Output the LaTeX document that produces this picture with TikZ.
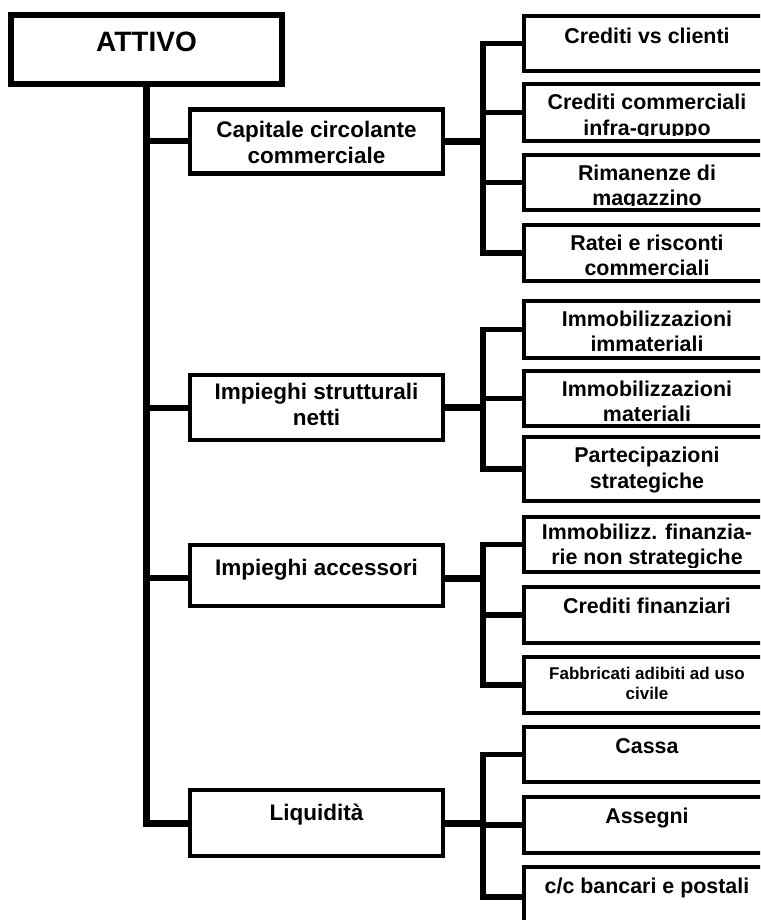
\documentclass[tikz,border=0pt]{standalone}
\usepackage{fontspec}
\setmainfont{Liberation Sans}

% Box with top-aligned, clipped text:
% #1 style, #2 name, #3 left, #4 top, #5 width, #6 height, #7 first baseline offset, #8 text
\newcommand\tbox[8]{%
  \node[#1, minimum width=#5pt, minimum height=#6pt, anchor=north west] (#2) at (#3,#4) {};
  \begin{scope}
    \clip ([yshift=5pt]#2.south west) rectangle (#2.north east);
    \node[#1 text, anchor=base] at ([yshift=-#7pt]#2.north)
      {\begin{tabular}[t]{@{}c@{}}#8\end{tabular}};
  \end{scope}}

\begin{document}
\begin{tikzpicture}[x=1pt,y=-1pt,
  frame/.style={draw=black, fill=white, inner sep=0pt, outer sep=0pt},
  root/.style={frame, line width=6pt},
  root text/.style={inner sep=0pt, font=\bfseries\fontsize{28}{32}\selectfont},
  mid/.style={frame, line width=4.5pt},
  mid text/.style={inner sep=0pt, font=\bfseries\fontsize{22.5}{25.8}\selectfont},
  leaf/.style={frame, line width=4.5pt},
  leaf text/.style={inner sep=0pt, font=\bfseries\fontsize{21.4}{25.5}\selectfont},
  smallleaf/.style={leaf},
  smallleaf text/.style={inner sep=0pt, font=\bfseries\fontsize{17}{20}\selectfont},
  trunkline/.style={line width=7pt},
  armline/.style={line width=6pt},
  linkline/.style={line width=7pt},
  branchline/.style={line width=5.5pt},
]
\useasboundingbox (0,0) rectangle (760,920);
\clip (0,0) rectangle (760,920);

% root
\tbox{root}{attivo}{11}{15}{271}{69}{37}{ATTIVO}

% second level
\tbox{mid}{cap}{190}{109.5}{253}{64}{28}{Capitale circolante\\commerciale}
\tbox{mid}{str}{190}{375}{253}{65}{24.5}{Impieghi strutturali\\netti}
\tbox{mid}{acc}{190}{545}{253}{61}{30}{Impieghi accessori}
\tbox{mid}{liq}{190}{790}{253}{66}{30}{Liquidità}

% leaves: capitale circolante
\tbox{leaf}{c1}{524}{16}{246}{55}{27.3}{Crediti vs clienti}
\tbox{leaf}{c2}{524}{84}{246}{57}{26}{Crediti commerciali\\infra-gruppo}
\tbox{leaf}{c3}{524}{155}{246}{55}{25}{Rimanenze di\\magazzino}
\tbox{leaf}{c4}{524}{225}{246}{56}{25}{Ratei e risconti\\commerciali}

% leaves: impieghi strutturali
\tbox{leaf}{s1}{524}{301}{246}{57}{25}{Immobilizzazioni\\immateriali}
\tbox{leaf}{s2}{524}{371}{246}{55}{25}{Immobilizzazioni\\materiali}
\tbox{leaf}{s3}{524}{437}{246}{64}{25.7}{Partecipazioni\\strategiche}

% leaves: impieghi accessori
\tbox{leaf}{a1}{524}{517}{246}{55}{22.3}{Immobilizz. finanzia-\\rie non strategiche}
\tbox{leaf}{a2}{524}{587}{246}{56}{26.3}{Crediti finanziari}
\tbox{smallleaf}{a3}{524}{657}{246}{56}{22.3}{Fabbricati adibiti ad uso\\civile}

% leaves: liquidita
\tbox{leaf}{l1}{524}{727}{246}{55}{26.3}{Cassa}
\tbox{leaf}{l2}{524}{797}{246}{56}{26.3}{Assegni}
\tbox{leaf}{l3}{524}{867}{246}{60}{26.3}{c/c bancari e postali}

% trunk and arms
\coordinate (accw) at ([yshift=-2.5pt]acc.west);
\coordinate (acce) at ([yshift=-2.5pt]acc.east);
\draw[trunkline] (attivo.south) |- (liq.west);
\draw[armline] (cap.west) -- (cap.west -| attivo.south);
\draw[armline] (str.west) -- (str.west -| attivo.south);
\draw[armline] (accw) -- (accw -| attivo.south);

% links to the brackets
\coordinate (k1) at ([xshift=40pt]cap.east);
\coordinate (k2) at ([xshift=40pt]str.east);
\coordinate (k3) at ([xshift=40pt]acce);
\coordinate (k4) at ([xshift=40pt]liq.east);
\draw[linkline] (cap.east) -- (k1);
\draw[linkline] (str.east) -- (k2);
\draw[linkline] (acce) -- (k3);
\draw[linkline] (liq.east) -- (k4);

% brackets
\draw[branchline] (c1.west) -| (k1) |- (c4.west);
\draw[branchline] (c2.west) -- (c2.west -| k1);
\draw[branchline] (c3.west) -- (c3.west -| k1);

\draw[branchline] (s1.west) -| (k2) |- (s3.west);
\draw[branchline] (s2.west) -- (s2.west -| k2);

\draw[branchline] (a1.west) -| (k3) |- (a3.west);
\draw[branchline] (a2.west) -- (a2.west -| k3);

\draw[branchline] (l1.west) -| (k4) |- (l3.west);
\draw[branchline] (l2.west) -- (l2.west -| k4);
\end{tikzpicture}
\end{document}
